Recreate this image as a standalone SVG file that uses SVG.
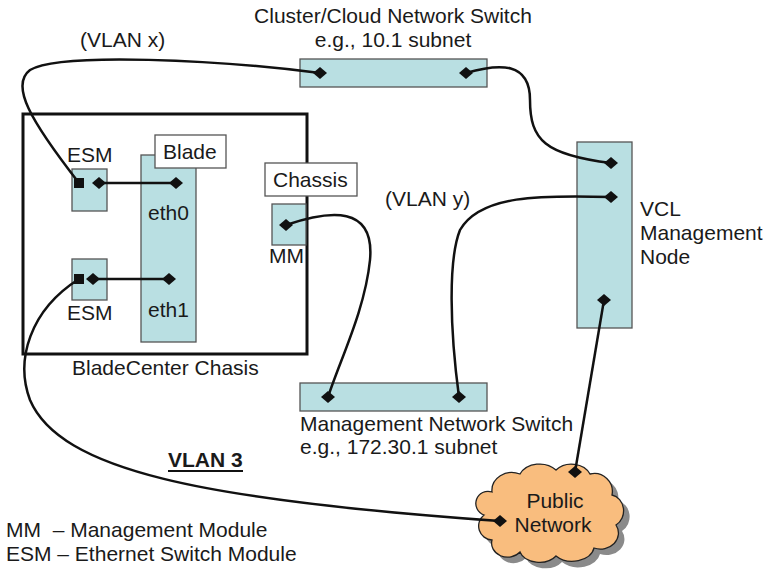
<svg xmlns="http://www.w3.org/2000/svg" xmlns:xlink="http://www.w3.org/1999/xlink" width="767" height="569" viewBox="0 0 767 569">
<style>
text{font-family:"Liberation Sans",Arial,sans-serif;font-size:21px;fill:#1a1a1a}
.box{fill:#b9dfe2;stroke:#555;stroke-width:1.3}
.lbl{fill:#fff;stroke:#555;stroke-width:1.3}
.wire{fill:none;stroke:#111;stroke-width:2.5}
</style>
<defs>
<path id="d" d="M-7,0 L0,-6 L7,0 L0,6Z" fill="#111"/>
<rect id="sq" x="-5" y="-5" width="10" height="10" fill="#111"/>
</defs>
<rect width="767" height="569" fill="#fff"/>

<g id="bladecenter">
<rect x="23" y="114" width="284" height="240" fill="none" stroke="#111" stroke-width="3"/>
<text x="72" y="375">BladeCenter Chasis</text>
</g>

<g id="blade">
<rect class="box" x="141" y="155" width="55" height="187"/>
<rect class="lbl" x="155" y="135" width="71" height="33"/>
<text x="163" y="159">Blade</text>
<text x="148" y="220">eth0</text>
<text x="148" y="317">eth1</text>
</g>

<g id="esm1">
<text x="67" y="162">ESM</text>
<rect class="box" x="72" y="169" width="35" height="42"/>
</g>

<g id="esm2">
<rect class="box" x="72" y="259" width="35" height="41"/>
<text x="67" y="320">ESM</text>
</g>

<g id="chassis">
<rect class="lbl" x="265" y="163" width="92" height="33"/>
<text x="273" y="187">Chassis</text>
</g>

<g id="mm">
<rect class="box" x="272" y="204" width="34" height="41"/>
<text x="269" y="263">MM</text>
</g>

<g id="cluster-switch">
<text x="393" y="23" text-anchor="middle">Cluster/Cloud Network Switch</text>
<text x="393" y="47" text-anchor="middle">e.g., 10.1 subnet</text>
<rect class="box" x="300" y="59" width="187" height="28"/>
</g>

<g id="vcl-node">
<rect class="box" x="577" y="142" width="55" height="186"/>
<text x="640" y="216">VCL</text>
<text x="640" y="240">Management</text>
<text x="640" y="264">Node</text>
</g>

<g id="mgmt-switch">
<rect class="box" x="300" y="383" width="187" height="28"/>
<text x="300" y="431">Management Network Switch</text>
<text x="300" y="454">e.g., 172.30.1 subnet</text>
</g>

<g id="public-network">
<path transform="translate(6,6)" fill="#8a8a8a" d="M492,492 A20,18 0 0 1 520,474 A22,18 0 0 1 556,470 A20,16 0 0 1 590,474 A18,18 0 0 1 612,495 A14,16 0 0 1 616,525 A18,16 0 0 1 594,548 A22,16 0 0 1 556,556 A20,14 0 0 1 520,552 A16,14 0 0 1 492,540 A14,14 0 0 1 484,515 A12,12 0 0 1 492,492Z"/>
<path fill="#f9bd7e" stroke="#222" stroke-width="1.3" d="M492,492 A20,18 0 0 1 520,474 A22,18 0 0 1 556,470 A20,16 0 0 1 590,474 A18,18 0 0 1 612,495 A14,16 0 0 1 616,525 A18,16 0 0 1 594,548 A22,16 0 0 1 556,556 A20,14 0 0 1 520,552 A16,14 0 0 1 492,540 A14,14 0 0 1 484,515 A12,12 0 0 1 492,492Z"/>
<text x="555" y="508" text-anchor="middle">Public</text>
<text x="553" y="532" text-anchor="middle">Network</text>
</g>

<g id="labels">
<text x="80" y="47">(VLAN x)</text>
<text x="385" y="206">(VLAN y)</text>
<text x="168" y="467" font-weight="bold">VLAN 3</text>
<rect x="168" y="470" width="75" height="2" fill="#111"/>
<text x="6" y="537" xml:space="preserve">MM  – Management Module</text>
<text x="6" y="561">ESM – Ethernet Switch Module</text>
</g>

<g id="connectors">
<path class="wire" d="M320,73 C220,60 60,52 30,70 C10,85 30,120 79,183"/>
<path class="wire" d="M99,183 L176,183"/>
<path class="wire" d="M93,279 L169,279"/>
<path class="wire" d="M466,73 C500,63 530,62 530,100 C530,140 545,155 611,163"/>
<path class="wire" d="M611,197 C540,195 480,195 460,230 C448,260 450,330 459,397"/>
<path class="wire" d="M286,225 C330,210 375,205 370,260 C365,310 340,360 328,397"/>
<path class="wire" d="M604,300 L575,472"/>
<path class="wire" d="M79,279 C30,310 15,360 30,400 C60,470 200,500 500,521"/>
<use xlink:href="#d" x="320" y="73"/>
<use xlink:href="#d" x="466" y="73"/>
<use xlink:href="#sq" x="79" y="183"/>
<use xlink:href="#d" x="99" y="183"/>
<use xlink:href="#d" x="176" y="183"/>
<use xlink:href="#sq" x="79" y="279"/>
<use xlink:href="#d" x="93" y="279"/>
<use xlink:href="#d" x="169" y="279"/>
<use xlink:href="#d" x="286" y="225"/>
<use xlink:href="#d" x="611" y="163"/>
<use xlink:href="#d" x="611" y="197"/>
<use xlink:href="#d" x="604" y="300"/>
<use xlink:href="#d" x="328" y="397"/>
<use xlink:href="#d" x="459" y="397"/>
<use xlink:href="#d" x="575" y="472"/>
<use xlink:href="#d" x="500" y="521"/>
</g>
</svg>
